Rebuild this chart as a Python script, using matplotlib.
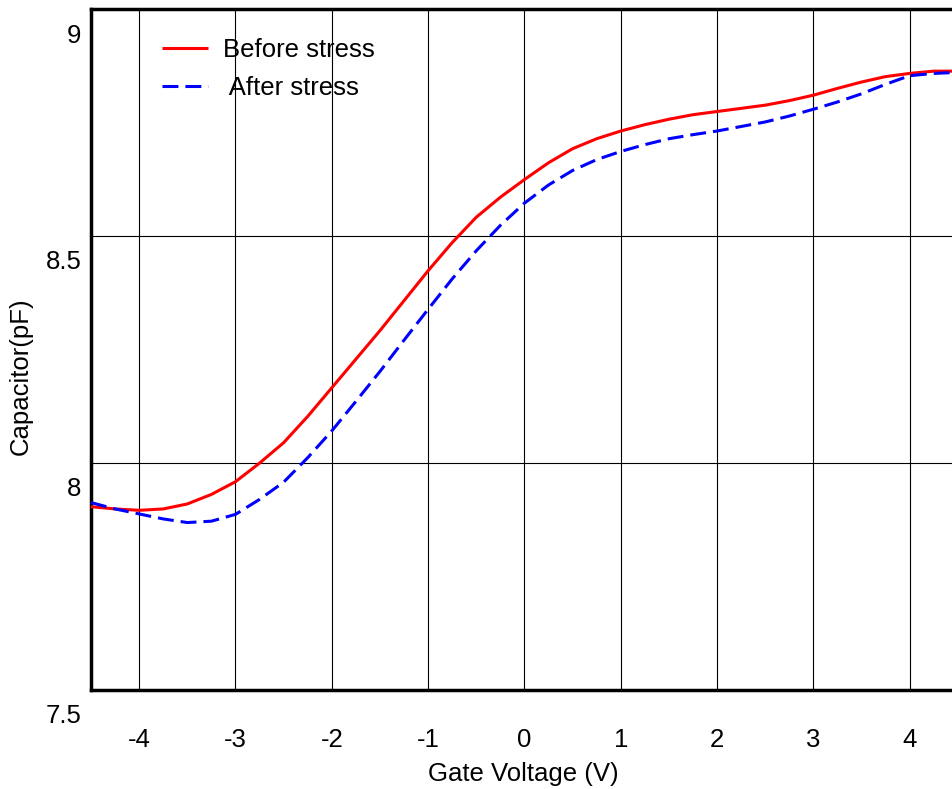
import matplotlib
matplotlib.use("Agg")
import matplotlib.pyplot as plt
import matplotlib.transforms as mtransforms

plt.rcParams['font.family'] = ['Liberation Sans', 'DejaVu Sans']

voltage = [-4.5, -4.25, -4.0, -3.75, -3.5, -3.25, -3.0, -2.75, -2.5, -2.25,
           -2.0, -1.75, -1.5, -1.25, -1.0, -0.75, -0.5, -0.25, 0.0, 0.25,
           0.5, 0.75, 1.0, 1.25, 1.5, 1.75, 2.0, 2.25, 2.5, 2.75,
           3.0, 3.25, 3.5, 3.75, 4.0, 4.25, 4.47]

before_stress = [7.903, 7.898, 7.895, 7.898, 7.909, 7.930, 7.958, 7.999, 8.044, 8.102,
                 8.165, 8.228, 8.291, 8.357, 8.423, 8.485, 8.541, 8.585, 8.624, 8.661,
                 8.692, 8.714, 8.731, 8.745, 8.757, 8.767, 8.774, 8.781, 8.788, 8.798,
                 8.810, 8.825, 8.839, 8.851, 8.858, 8.863, 8.863]

after_stress = [7.912, 7.898, 7.887, 7.876, 7.868, 7.871, 7.886, 7.919, 7.957, 8.011,
                8.070, 8.135, 8.201, 8.270, 8.338, 8.405, 8.467, 8.523, 8.572, 8.612,
                8.644, 8.668, 8.686, 8.701, 8.714, 8.723, 8.731, 8.741, 8.751, 8.764,
                8.779, 8.795, 8.813, 8.834, 8.853, 8.858, 8.860]

x_ticks = [-4, -3, -2, -1, 0, 1, 2, 3, 4]
y_ticks = [7.5, 8.0, 8.5, 9.0]
y_tick_labels = ['7.5', '8', '8.5', '9']

FS = 18.5
fig = plt.figure(figsize=(9.53, 7.89), dpi=100)
ax = fig.add_axes([91/953, (789-689.5)/789, 1 - 91/953 + 0.002, (689.5-9.0)/789])

ax.plot(voltage, before_stress, color='#ff0000', lw=2.2, label='Before stress',
        solid_capstyle='butt', solid_joinstyle='round', zorder=3)
ax.plot(voltage, after_stress, color='#0000ff', lw=2.2, dashes=(5.2, 2.3),
        label=' After stress', zorder=3)

ax.set_xlim(-4.5, 4.47)
ax.set_ylim(7.5, 9.0)
ax.set_xticks(x_ticks)
ax.set_xticklabels([str(t) for t in x_ticks])
ax.set_yticks(y_ticks)
ax.set_yticklabels(y_tick_labels)

ax.grid(True, color='black', lw=0.8)
ax.set_axisbelow(True)

ax.tick_params(axis='both', length=0, labelsize=FS)
ax.tick_params(axis='x', pad=28)
ax.tick_params(axis='y', pad=7)

offset = mtransforms.ScaledTranslation(0, -24/100, fig.dpi_scale_trans)
for lab in ax.get_yticklabels():
    lab.set_transform(lab.get_transform() + offset)

for side in ['left', 'bottom', 'top']:
    ax.spines[side].set_linewidth(2.5)
    ax.spines[side].set_color('black')
ax.spines['right'].set_visible(False)

ax.set_xlabel('Gate Voltage (V)', fontsize=FS)
ax.xaxis.set_label_coords(0.5, -0.107)
ax.set_ylabel('Capacitor(pF)', fontsize=FS)
ax.yaxis.set_label_coords(-0.068, 0.46)

ax.legend(loc='upper left', bbox_to_anchor=(71/862, 0.958), frameon=False,
          fontsize=FS, handlelength=1.8, handletextpad=0.55, labelspacing=0.58,
          borderpad=0, borderaxespad=0)

fig.savefig('out.png', dpi=100)
